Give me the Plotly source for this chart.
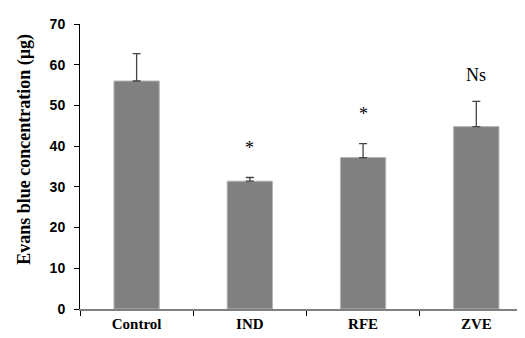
import plotly.graph_objects as go

categories = ["Control", "IND", "RFE", "ZVE"]
values = [56.0, 31.4, 37.2, 44.8]
errors = [6.7, 0.9, 3.4, 6.2]
annotations_text = ["", "*", "*", "Ns"]
annot_y = [None, 39.5, 48.0, 57.5]
yticks = [0, 10, 20, 30, 40, 50, 60, 70]
y_title = "Evans blue concentration (µg)"

fig = go.Figure()
fig.add_trace(go.Bar(
    x=categories, y=values,
    width=0.4,
    marker=dict(color="#808080", line=dict(color="#b4b4b4", width=1)),
    error_y=dict(type="data", array=errors, arrayminus=[0]*4, symmetric=False,
                 color="#444444", thickness=1.3, width=4),
))

for c, t, yy in zip(categories, annotations_text, annot_y):
    if t:
        fig.add_annotation(x=c, y=yy, text=t, showarrow=False,
                           font=dict(family="Liberation Serif", size=18, color="black"))

fig.add_annotation(xref="paper", yref="paper", x=-0.125, y=0.56, text=y_title,
                   textangle=-90, showarrow=False, xanchor="center", yanchor="middle",
                   font=dict(family="Liberation Serif", size=18, color="black", weight="bold"))

fig.update_layout(
    width=525, height=338,
    margin=dict(l=72, r=8, t=12, b=37),
    plot_bgcolor="white", paper_bgcolor="white",
    showlegend=False,
    xaxis=dict(range=[-0.5, 3.43], showline=True, linecolor="#808080", linewidth=1.5,
               ticks="outside", tickson="boundaries", ticklen=5, tickcolor="black",
               tickfont=dict(family="Liberation Serif", size=15, color="black", weight="bold"),
               showgrid=False),
    yaxis=dict(range=[0, 70], tickvals=yticks, showline=True, linecolor="black", linewidth=1,
               ticks="outside", ticklen=5, tickcolor="black", showgrid=False, zeroline=False,
               ticklabelstandoff=6,
               tickfont=dict(family="Liberation Sans", size=14, color="black", weight="bold")),
)

fig.write_html("out.html")
